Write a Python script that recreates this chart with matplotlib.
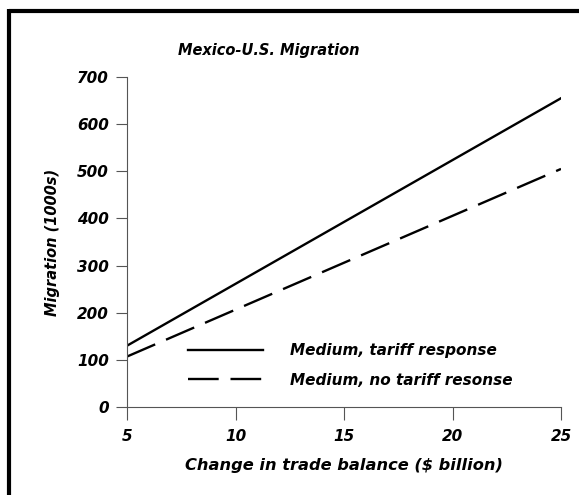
import matplotlib
matplotlib.use("Agg")
from matplotlib import pyplot as plt
from matplotlib.lines import Line2D

plt.rcParams['font.family'] = ['DejaVu Sans']

# data (end points of the two straight lines)
trade_balance = [5, 25]
tariff_response = [130, 655]
no_tariff_response = [107, 505]

x_ticks = [5, 10, 15, 20, 25]
y_ticks = [0, 100, 200, 300, 400, 500, 600, 700]

def fnt(size):
    return dict(fontsize=size, fontweight='bold', fontstyle='italic')

axis_col = '#555555'

fig = plt.figure(figsize=(5.79, 4.95), dpi=100)
ax = fig.add_axes([127/579, 1-407/495, 434/579, 330/495])

ax.plot(trade_balance, tariff_response, color='black', lw=1.7,
        label='Medium, tariff response')
ax.plot(trade_balance, no_tariff_response, color='black', lw=1.7,
        dashes=(13, 5), label='Medium, no tariff resonse')

ax.set_xlim(5, 25)
ax.set_ylim(0, 700)
ax.set_xticks(x_ticks)
ax.set_yticks(y_ticks)
ax.set_xticklabels([str(v) for v in x_ticks], **fnt(11))
ax.set_yticklabels([str(v) for v in y_ticks], **fnt(11))
ax.tick_params(axis='x', direction='out', length=9, width=0.8, color=axis_col, pad=7)
ax.tick_params(axis='y', direction='out', length=8, width=0.8, color=axis_col, pad=5)

for s in ['top', 'right']:
    ax.spines[s].set_visible(False)
for s in ['left', 'bottom']:
    ax.spines[s].set_color(axis_col)
    ax.spines[s].set_linewidth(0.8)

ax.set_xlabel('Change in trade balance ($ billion)', labelpad=10, **fnt(11.7))
ax.set_ylabel('Migration (1000s)', labelpad=12, **fnt(10.5))

fig.text(269/579, 1-51/495, 'Mexico-U.S. Migration', ha='center', va='center', **fnt(10.5))

leg = ax.legend(loc='center left', bbox_to_anchor=(0.14, 0.126), frameon=False,
                borderpad=0, borderaxespad=0, handlelength=4.95, handletextpad=1.75,
                labelspacing=0.95, prop=dict(family='DejaVu Sans', size=11,
                                              weight='bold', style='italic'))

# thick border, top and left only visible
fig.add_artist(Line2D([9/579, 1.0], [1-11/495, 1-11/495], color='black', lw=3,
                      transform=fig.transFigure, solid_capstyle='butt'))
fig.add_artist(Line2D([9/579, 9/579], [1-9/495, 0.0], color='black', lw=3,
                      transform=fig.transFigure, solid_capstyle='butt'))

fig.savefig('out.png', dpi=100)
